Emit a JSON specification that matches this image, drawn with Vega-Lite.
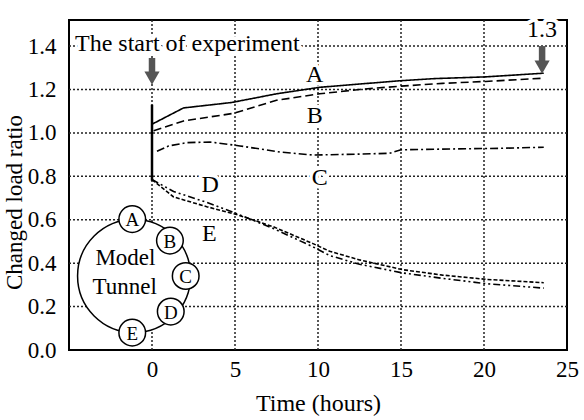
{
  "$schema": "https://vega.github.io/schema/vega-lite/v6.json",
  "width": 498,
  "height": 330,
  "autosize": "none",
  "padding": {"left": 69, "top": 20, "right": 17, "bottom": 70},
  "background": "white",
  "config": {
    "view": {"stroke": "black", "strokeWidth": 2},
    "font": "Liberation Serif",
    "axis": {
      "labelFont": "Liberation Serif",
      "titleFont": "Liberation Serif",
      "labelColor": "black",
      "titleColor": "black",
      "titleFontWeight": "normal",
      "grid": false,
      "tickSize": 0,
      "domain": false,
      "labelFontSize": 23,
      "titleFontSize": 24,
      "labelOverlap": false,
      "labelFlush": false
    }
  },
  "datasets": {
    "gridX": [
      {"t": 0, "v": 0, "v2": 1.52},
      {"t": 5, "v": 0, "v2": 1.52},
      {"t": 10, "v": 0, "v2": 1.52},
      {"t": 15, "v": 0, "v2": 1.52},
      {"t": 20, "v": 0, "v2": 1.52}
    ],
    "gridY": [
      {"v": 0.2, "t": -5, "t2": 25},
      {"v": 0.4, "t": -5, "t2": 25},
      {"v": 0.6, "t": -5, "t2": 25},
      {"v": 0.8, "t": -5, "t2": 25},
      {"v": 1.0, "t": -5, "t2": 25},
      {"v": 1.2, "t": -5, "t2": 25},
      {"v": 1.4, "t": -5, "t2": 25}
    ],
    "curves": [
      {"series": "A", "t": 0, "v": 1.04},
      {"series": "A", "t": 1.9, "v": 1.115},
      {"series": "A", "t": 4.8, "v": 1.14},
      {"series": "A", "t": 7.5, "v": 1.18},
      {"series": "A", "t": 10.1, "v": 1.21},
      {"series": "A", "t": 12.5, "v": 1.225},
      {"series": "A", "t": 14.9, "v": 1.24},
      {"series": "A", "t": 17, "v": 1.25},
      {"series": "A", "t": 20.1, "v": 1.258},
      {"series": "A", "t": 23.6, "v": 1.275},
      {"series": "B", "t": 0.1, "v": 1.01},
      {"series": "B", "t": 1.9, "v": 1.055},
      {"series": "B", "t": 4.9, "v": 1.09},
      {"series": "B", "t": 7.5, "v": 1.15},
      {"series": "B", "t": 10.1, "v": 1.18},
      {"series": "B", "t": 12.5, "v": 1.2},
      {"series": "B", "t": 14.9, "v": 1.215},
      {"series": "B", "t": 17.5, "v": 1.228},
      {"series": "B", "t": 20.1, "v": 1.237},
      {"series": "B", "t": 23.6, "v": 1.252},
      {"series": "C", "t": 0.3, "v": 0.915},
      {"series": "C", "t": 1, "v": 0.94},
      {"series": "C", "t": 2.1, "v": 0.955},
      {"series": "C", "t": 3.5, "v": 0.958},
      {"series": "C", "t": 5.3, "v": 0.94},
      {"series": "C", "t": 7.7, "v": 0.912},
      {"series": "C", "t": 9.7, "v": 0.898},
      {"series": "C", "t": 12.3, "v": 0.902},
      {"series": "C", "t": 14.3, "v": 0.906},
      {"series": "C", "t": 15, "v": 0.922},
      {"series": "C", "t": 18, "v": 0.926},
      {"series": "C", "t": 21, "v": 0.929},
      {"series": "C", "t": 23.6, "v": 0.934},
      {"series": "D", "t": 0, "v": 0.785},
      {"series": "D", "t": 1.3, "v": 0.73},
      {"series": "D", "t": 3.3, "v": 0.68},
      {"series": "D", "t": 5.1, "v": 0.628},
      {"series": "D", "t": 7.3, "v": 0.56},
      {"series": "D", "t": 9.7, "v": 0.475},
      {"series": "D", "t": 10.7, "v": 0.435},
      {"series": "D", "t": 12.5, "v": 0.395},
      {"series": "D", "t": 15.1, "v": 0.355},
      {"series": "D", "t": 17.5, "v": 0.33},
      {"series": "D", "t": 20.2, "v": 0.305},
      {"series": "D", "t": 23.6, "v": 0.285},
      {"series": "E", "t": 0, "v": 0.785},
      {"series": "E", "t": 1.3, "v": 0.705},
      {"series": "E", "t": 3.3, "v": 0.66},
      {"series": "E", "t": 5.1, "v": 0.624},
      {"series": "E", "t": 7.3, "v": 0.568},
      {"series": "E", "t": 9.7, "v": 0.49},
      {"series": "E", "t": 10.7, "v": 0.455},
      {"series": "E", "t": 12.5, "v": 0.415},
      {"series": "E", "t": 15.1, "v": 0.37},
      {"series": "E", "t": 17.5, "v": 0.345},
      {"series": "E", "t": 20.2, "v": 0.325},
      {"series": "E", "t": 23.6, "v": 0.31}
    ],
    "startLine": [{"t": 0, "v": 1.13, "v2": 0.78}],
    "shafts": [
      {"t": 0, "v": 1.345, "v2": 1.26},
      {"t": 23.5, "v": 1.4, "v2": 1.32}
    ],
    "heads": [
      {"t": 0, "v": 1.252},
      {"t": 23.5, "v": 1.303}
    ],
    "tunnel": [{"t": -1.08, "v": 0.341}],
    "ports": [
      {"t": -1.19, "v": 0.603, "label": "A"},
      {"t": 1.08, "v": 0.504, "label": "B"},
      {"t": 2.03, "v": 0.341, "label": "C"},
      {"t": 1.13, "v": 0.177, "label": "D"},
      {"t": -1.19, "v": 0.08, "label": "E"}
    ],
    "tunnelText": [
      {"t": -1.6, "v": 0.423, "label": "Model"},
      {"t": -1.65, "v": 0.289, "label": "Tunnel"}
    ],
    "curveLabels": [
      {"t": 9.8, "v": 1.265, "label": "A"},
      {"t": 9.8, "v": 1.08, "label": "B"},
      {"t": 10.1, "v": 0.79, "label": "C"},
      {"t": 3.5, "v": 0.76, "label": "D"},
      {"t": 3.45, "v": 0.535, "label": "E"}
    ],
    "startText": [{"t": -4.64, "v": 1.41, "label": "The start of experiment"}],
    "endText": [{"t": 23.5, "v": 1.475, "label": "1.3"}]
  },
  "encoding": {
    "x": {
      "field": "t",
      "type": "quantitative",
      "scale": {"domain": [-5, 25], "nice": false, "zero": false},
      "axis": {
        "values": [0, 5, 10, 15, 20, 25],
        "title": "Time (hours)",
        "labelPadding": 8,
        "titlePadding": 10
      }
    },
    "y": {
      "field": "v",
      "type": "quantitative",
      "scale": {"domain": [0, 1.52], "nice": false, "zero": false},
      "axis": {
        "values": [0, 0.2, 0.4, 0.6, 0.8, 1.0, 1.2, 1.4],
        "format": ".1f",
        "title": "Changed load ratio",
        "labelPadding": 13,
        "titlePadding": 1,
        "titleFontSize": 23,
        "titleY": 182
      }
    }
  },
  "layer": [
    {
      "data": {"name": "gridX"},
      "mark": {"type": "rule", "stroke": "#222222", "strokeWidth": 1.5, "strokeDash": [2, 2], "opacity": 1},
      "encoding": {"y2": {"field": "v2"}}
    },
    {
      "data": {"name": "gridY"},
      "mark": {"type": "rule", "stroke": "#222222", "strokeWidth": 1.5, "strokeDash": [2, 2], "opacity": 1},
      "encoding": {"x2": {"field": "t2"}}
    },
    {
      "data": {"name": "startLine"},
      "mark": {"type": "rule", "color": "black", "strokeWidth": 2.5},
      "encoding": {"y2": {"field": "v2"}}
    },
    {
      "data": {"name": "curves"},
      "mark": {"type": "line", "color": "black", "strokeWidth": 1.6},
      "encoding": {
        "detail": {"field": "series", "type": "nominal"},
        "strokeDash": {
          "field": "series",
          "type": "nominal",
          "scale": {
            "domain": ["A", "B", "C", "D", "E"],
            "range": [[1, 0], [8, 4], [8, 3, 2, 3], [7, 3, 2, 3, 2, 3], [4, 2]]
          },
          "legend": null
        }
      }
    },
    {
      "data": {"name": "shafts"},
      "mark": {"type": "rule", "color": "#555555", "strokeWidth": 6.5},
      "encoding": {"y2": {"field": "v2"}}
    },
    {
      "data": {"name": "heads"},
      "mark": {"type": "point", "shape": "triangle-down", "filled": true, "color": "#555555", "opacity": 1, "size": 230}
    },
    {
      "data": {"name": "tunnel"},
      "mark": {"type": "point", "shape": "circle", "filled": true, "fill": "white", "stroke": "black", "strokeWidth": 1.5, "opacity": 1, "size": 12769}
    },
    {
      "data": {"name": "ports"},
      "mark": {"type": "point", "shape": "circle", "filled": true, "fill": "white", "stroke": "black", "strokeWidth": 1.5, "opacity": 1, "size": 710}
    },
    {
      "data": {"name": "ports"},
      "mark": {"type": "text", "font": "Liberation Serif", "fontSize": 19, "color": "black", "align": "center", "baseline": "middle", "dy": 1},
      "encoding": {"text": {"field": "label"}}
    },
    {
      "data": {"name": "tunnelText"},
      "mark": {"type": "text", "font": "Liberation Serif", "fontSize": 23, "color": "black", "align": "center", "baseline": "middle"},
      "encoding": {"text": {"field": "label"}}
    },
    {
      "data": {"name": "curveLabels"},
      "mark": {"type": "text", "font": "Liberation Serif", "fontSize": 24, "fill": "white", "stroke": "white", "strokeWidth": 7, "strokeJoin": "round", "align": "center", "baseline": "middle"},
      "encoding": {"text": {"field": "label"}}
    },
    {
      "data": {"name": "curveLabels"},
      "mark": {"type": "text", "font": "Liberation Serif", "fontSize": 24, "color": "black", "align": "center", "baseline": "middle"},
      "encoding": {"text": {"field": "label"}}
    },
    {
      "data": {"name": "startText"},
      "mark": {"type": "text", "font": "Liberation Serif", "fontSize": 24, "fill": "white", "stroke": "white", "strokeWidth": 8, "strokeJoin": "round", "align": "left", "baseline": "middle"},
      "encoding": {"text": {"field": "label"}}
    },
    {
      "data": {"name": "startText"},
      "mark": {"type": "text", "font": "Liberation Serif", "fontSize": 24, "color": "black", "align": "left", "baseline": "middle"},
      "encoding": {"text": {"field": "label"}}
    },
    {
      "data": {"name": "endText"},
      "mark": {"type": "text", "font": "Liberation Serif", "fontSize": 24, "fill": "white", "stroke": "white", "strokeWidth": 8, "strokeJoin": "round", "align": "center", "baseline": "middle"},
      "encoding": {"text": {"field": "label"}}
    },
    {
      "data": {"name": "endText"},
      "mark": {"type": "text", "font": "Liberation Serif", "fontSize": 24, "color": "black", "align": "center", "baseline": "middle"},
      "encoding": {"text": {"field": "label"}}
    }
  ]
}
